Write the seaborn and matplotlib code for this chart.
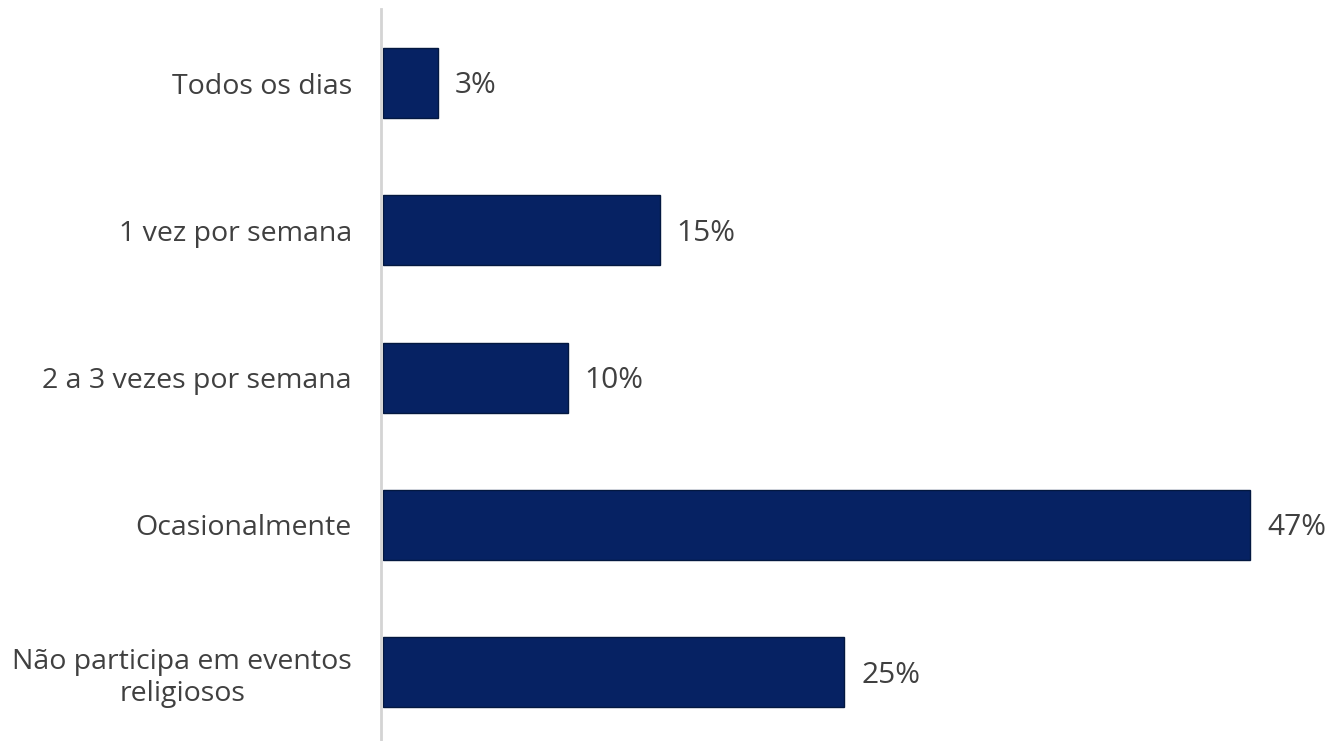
import matplotlib
matplotlib.use('Agg')
import matplotlib.pyplot as plt
import seaborn as sns
import pandas as pd

categories = ["Todos os dias", "1 vez por semana", "2 a 3 vezes por semana",
              "Ocasionalmente", "Não participa em eventos\nreligiosos"]
values = [3, 15, 10, 47, 25]
value_labels = ["3%", "15%", "10%", "47%", "25%"]

sns.set_style("white")
plt.rcParams['font.family'] = ['Open Sans', 'DejaVu Sans']

df = pd.DataFrame({"cat": categories, "val": values})

fig = plt.figure(figsize=(13.28, 7.41), dpi=100)
ax = fig.add_axes([383 / 1328, 0.0, 1 - 383 / 1328, 731.6 / 741])

sns.barplot(data=df, x="val", y="cat", orient="h", color="#062263",
            width=0.475, saturation=1, edgecolor="#031840", linewidth=1, ax=ax)

for i, (v, lab) in enumerate(zip(values, value_labels)):
    ax.text(v + 0.9, i + 0.02, lab, va="center", ha="left", fontsize=21.5, color="#404040")

ax.set_xlim(0, 51.2)
ax.set_ylim(4.467, -0.5)
ax.set_xlabel("")
ax.set_ylabel("")
ax.set_xticks([])
ax.tick_params(axis="y", length=0, pad=21, labelsize=20.5, labelcolor="#404040")

for s in ["top", "right", "bottom"]:
    ax.spines[s].set_visible(False)
ax.spines["left"].set_color("#d4d4d4")
ax.spines["left"].set_linewidth(2)
ax.spines["left"].set_position(("data", -0.1))

fig.canvas.draw()
for lab in ax.get_yticklabels():
    lab.set_multialignment("center")

fig.savefig("out.png", dpi=100)
